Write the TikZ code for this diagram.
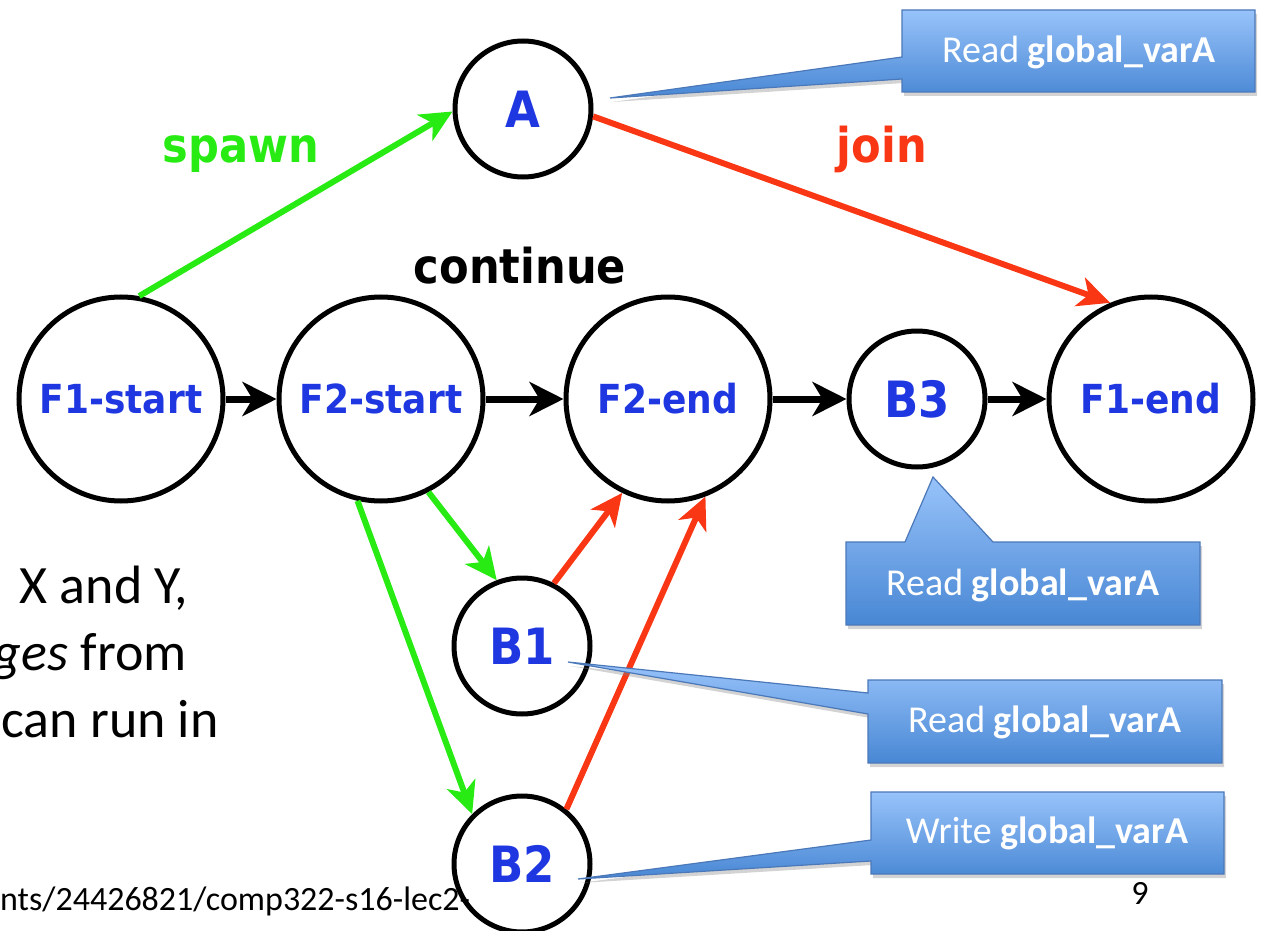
\documentclass[tikz,border=0pt]{standalone}
\usepackage{fontspec}
\setmainfont{Carlito}
\newfontfamily\comic{DejaVu Sans}[FakeStretch=0.9]
\usetikzlibrary{arrows.meta,shadows}

\definecolor{labelblue}{RGB}{30,55,225}
\definecolor{spawngreen}{RGB}{40,235,20}
\definecolor{joinred}{RGB}{250,55,20}
\definecolor{calltop}{RGB}{152,195,250}
\definecolor{callbot}{RGB}{72,135,212}
\definecolor{callline}{RGB}{75,120,185}

\tikzset{
  state/.style={circle, draw=black, line width=5pt, fill=white, inner sep=0pt},
  bigstate/.style={state, minimum size=204pt},
  smallstate/.style={state, minimum size=136pt},
  flabel/.style={text=labelblue, font=\comic\bfseries\fontsize{40}{40}\selectfont},
  blabel/.style={text=labelblue, font=\comic\bfseries\fontsize{50}{50}\selectfont},
  seq/.style={line width=7pt, -{Stealth[length=34pt,width=34pt,inset=10pt]}},
  spawnarrow/.style={draw=spawngreen, line width=6pt, -{Stealth[length=32pt,width=30pt,inset=9pt]}},
  joinarrow/.style={draw=joinred, line width=6pt, -{Stealth[length=32pt,width=30pt,inset=9pt]}},
  edgeword/.style={font=\comic\bfseries\fontsize{48}{48}\selectfont, anchor=base},
  calloutbox/.style={top color=calltop, bottom color=callbot, draw=callline, line width=1.2pt,
    drop shadow={shadow xshift=2pt, shadow yshift=-4pt, opacity=0.35}},
  callouttext/.style={text=white, font=\fontsize{38}{38}\selectfont},
  bodytext/.style={font=\fontsize{54}{54}\selectfont, anchor=base east, inner sep=0pt}
}

\begin{document}
\begin{tikzpicture}[x=1pt,y=-1pt]
  \useasboundingbox (0,0) rectangle (1262,931);
  \clip (0,0) rectangle (1262,931);

  % slide text running behind the graph
  \node[bodytext] (t1) at (188,603) {X and Y,};
  \node[bodytext] (t2) at (187,670) {\textit{ges} from};
  \node[bodytext] (t3) at (219,737) {can run in};

  % computation graph nodes
  \node[bigstate] (F1s) at (121,399) {};
  \node[bigstate] (F2s) at (381,399) {};
  \node[bigstate] (F2e) at (668,399) {};
  \node[smallstate] (B3) at (917,399) {};
  \node[bigstate] (F1e) at (1151,399) {};
  \node[smallstate] (A) at (523,109) {};
  \node[smallstate] (B1) at (522,646) {};
  \node[smallstate] (B2) at (522,864) {};

  \node[flabel] at (F1s) {F1-start};
  \node[flabel] at (F2s) {F2-start};
  \node[flabel] at (F2e) {F2-end};
  \node[flabel] at (F1e) {F1-end};
  \node[blabel] at (B3) {B3};
  \node[blabel] at (A) {A};
  \node[blabel] at (B1) {B1};
  \node[blabel] at (B2) {B2};

  % source line at the foot of the slide
  \node[font=\fontsize{34}{34}\selectfont, anchor=base west, inner sep=0pt] (url) at (0,910) {nts/24426821/comp322-s16-lec2-};

  % continue edges
  \draw[seq] (F1s.east) -- (F2s.west);
  \draw[seq] (F2s.east) -- (F2e.west);
  \draw[seq] (F2e.east) -- (B3.west);
  \draw[seq] (B3.east) -- (F1e.west);

  % spawn edges
  \draw[spawnarrow] (F1s.80) -- (A.182);
  \draw[spawnarrow] (F2s.-63) -- (B1.111);
  \draw[spawnarrow] (F2s.-103) -- (B2.135);

  % join edges
  \draw[joinarrow] (A.-6) -- (F1e.113);
  \draw[joinarrow] (B1.63) -- (F2e.-116);
  \draw[joinarrow] (B2.51) -- (F2e.-69);

  % edge labels
  \node[edgeword, text=spawngreen] (lspawn) at (241,163) {spawn};
  \node[edgeword, text=black] (lcont) at (520,283) {continue};
  \node[edgeword, text=joinred] (ljoin) at (882,163) {join};

  % callouts
  \coordinate (tipA) at (610,98);
  \coordinate (tipB3) at (933,477);
  \coordinate (tipB1) at (568,662);
  \coordinate (tipB2) at (578,879);

  \path[calloutbox] (902,10) -- (1255,10) -- (1255,92) -- (902,92) -- (902,79) -- (tipA) -- (902,57) -- cycle;
  \node[callouttext] (cA) at (1079,52) {Read \textbf{global\_varA}};

  \path[calloutbox] (846,542) -- (905,542) -- (tipB3) -- (993,542) -- (1200,542) -- (1200,625) -- (846,625) -- cycle;
  \node[callouttext] (cB3) at (1023,585) {Read \textbf{global\_varA}};

  \path[calloutbox] (868,680) -- (1222,680) -- (1222,763) -- (868,763) -- (868,714) -- (tipB1) -- (868,693) -- cycle;
  \node[callouttext] (cB1) at (1045,722) {Read \textbf{global\_varA}};

  \path[calloutbox] (871,792) -- (1224,792) -- (1224,874) -- (871,874) -- (871,861) -- (tipB2) -- (871,840) -- cycle;
  \node[callouttext] (cB2) at (1047,833) {Write \textbf{global\_varA}};

  % slide number
  \node[font=\fontsize{34}{34}\selectfont] (pnum) at (1140,893) {9};
\end{tikzpicture}
\end{document}
